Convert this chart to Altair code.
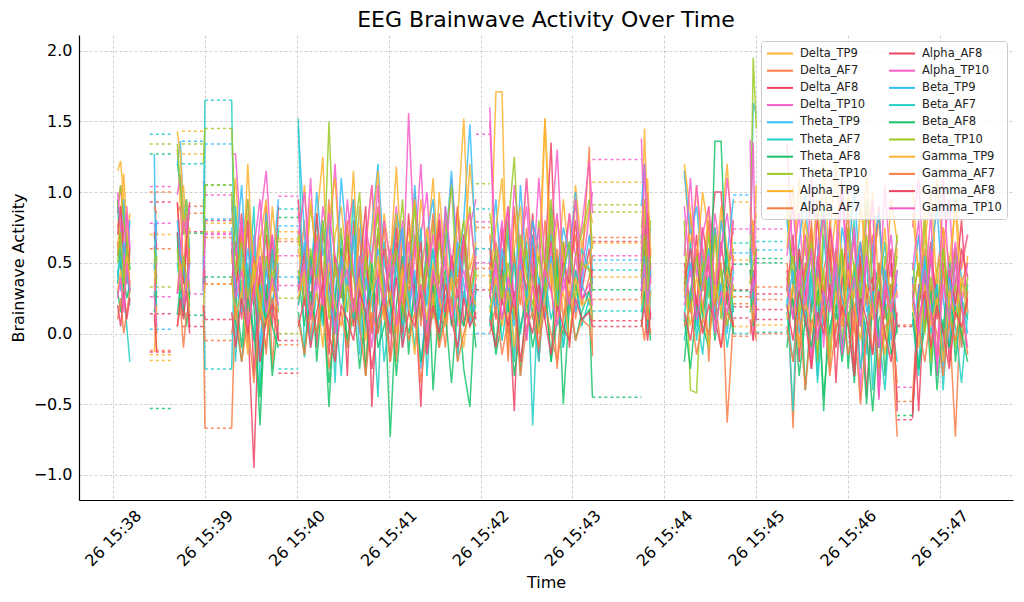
import altair as alt
import pandas as pd

# ---------------- data ----------------
SERIES = ["Delta_TP9", "Delta_AF7", "Delta_AF8", "Delta_TP10",
          "Theta_TP9", "Theta_AF7", "Theta_AF8", "Theta_TP10",
          "Alpha_TP9", "Alpha_AF7", "Alpha_AF8", "Alpha_TP10",
          "Beta_TP9", "Beta_AF7", "Beta_AF8", "Beta_TP10",
          "Gamma_TP9", "Gamma_AF7", "Gamma_AF8", "Gamma_TP10"]
PALETTE = ["#FFB22E", "#F97C44", "#EE4463", "#F95CC9",
           "#35BDF9", "#22CFC6", "#17C46A", "#9ACA26"]

START = "2024-03-26 15:38:00"
# seconds after 15:38:00
TIME_S = [3, 5, 7, 9, 11,
          27, 28.5,
          42, 44, 46, 48, 50,
          59, 60,
          77.5, 80, 84, 88, 92, 96, 100, 104, 108,
          121, 125, 129, 133, 137, 141, 145, 149, 153, 157, 161, 165, 169, 173, 177,
          181, 185, 189, 193, 197, 201, 205, 209, 213, 217, 221, 225, 229, 233, 237,
          246, 250, 254, 258, 262, 266, 270, 274, 278, 282, 286, 290, 294, 298, 302, 306,
          311, 313,
          345, 347, 349, 351,
          373, 377, 381, 385, 389, 393, 397, 401, 405,
          416, 418, 420,
          440, 444, 448, 452, 456, 460, 464, 468, 472, 476, 480, 484, 488, 492, 496, 500, 504, 508, 512,
          522, 526, 530, 534, 538, 542, 546, 550, 554, 558]

DELTA_TP9 = [1.15, 1.22, 0.95, 0.6, 0.85,
             0.7, 0.52,
             1.3, 0.9, 1.05, 0.75, 0.82,
             0.95, 0.72,
             0.78, 1.1, 0.4, 0.85, 0.2, 0.65, 0.95, 0.3, 0.55,
             0.62, 1.05, 0.35, 0.8, 1.25, 0.15, 0.7, 0.9, 0.45, 1.15, 0.3, 0.6, 1.05, 0.2, 0.85,
             0.5, 1.18, 0.4, 0.75, 0.25, 0.95, 0.6, 1.1, 0.35, 0.7, 0.15, 0.88, 0.5, 1.2, 0.72,
             0.3, 1.71, 1.71, -0.15, 0.85, 0.4, 1.1, 0.55, 0.2, 1.52, 0.65, 0.35, 0.95, 0.5, 1.05, 0.6,
             0.9, 0.78,
             0.55, 1.45, 0.8, 0.35,
             1.15, 0.6, 1.05, 0.4, 0.9, 0.3, 0.75, 1.2, 0.5,
             0.88, 0.55, 1.05,
             0.95, 0.3, 1.1, 0.55, 0.75, 0.2, 1.2, 0.45, 0.85, 0.15, 1.0, 0.6, 0.35, 1.15, 0.5, 0.8, 0.25, 0.95, 0.65,
             1.05, 0.4, 0.85, 0.2, 1.1, 0.55, 0.3, 0.95, 0.45, 0.7]
DELTA_AF7 = [0.75, 0.9, 0.62, 0.5, 0.45,
             1.0, 0.7,
             0.92, 0.6, 0.35, 0.82, 0.5,
             0.2, -0.67,
             -0.67, 0.3, 0.75, -0.1, 0.55, 0.2, 0.9, -0.25, 0.45,
             0.35, 0.8, -0.05, 0.5, 0.25, 0.95, -0.2, 0.6, 0.4, 0.1, 0.75, -0.3, 0.55, 0.9, 0.2,
             0.45, -0.15, 0.7, 0.35, 1.0, 0.05, 0.6, 0.3, -0.1, 0.8, 0.45, 0.15, 0.65, 0.25, 0.55,
             0.7, 0.2, 0.55, -0.2, 0.9, 0.35, -0.05, 0.6, 0.15, 0.8, 0.4, -0.25, 0.5, 0.85, 0.1, 0.45,
             1.32, -0.16,
             0.4, 0.9, 0.15, 0.6,
             0.3, 0.85, 0.1, 0.6, -0.2, 0.75, 0.45, 0.2, 0.55,
             0.35, 0.8, 0.1,
             0.4, -0.67, 0.55, 0.1, 0.8, -0.2, 0.45, 0.65, 0.0, 0.35, 0.9, -0.3, 0.5, 0.2, 0.7, -0.1, 0.4, 0.05, -0.73,
             -0.47, 0.3, 0.6, -0.15, 0.45, 0.75, 0.1, -0.73, 0.35, 0.5]
DELTA_AF8 = [0.65, 0.45, 0.8, 0.55, 0.35,
             0.62, 0.4,
             0.93, 0.6, 0.13, 0.72, 0.05,
             0.35, 0.8,
             0.6, 0.25, 0.85, 0.1, -0.95, 0.4, 0.7, 0.05, 0.9,
             0.95, 0.2, 0.55, -0.1, 0.75, 0.35, 0.05, 0.6, -0.3, 0.8, 0.25, 0.5, 0.0, 0.7, 0.4,
             -0.2, 0.65, 0.15, 0.85, 0.3, -0.52, 0.55, 0.2, 0.75, 0.1, 0.45, 0.9, 0.05, 0.35, 0.6,
             0.5, 0.1, 0.75, 0.3, -0.55, 0.6, 0.25, 0.85, 0.05, 0.5, 1.35, 0.2, 0.65, -0.1, 0.45, 0.3,
             0.6, 0.35,
             0.3, 0.75, 0.45, 0.1,
             0.5, 0.2, 0.7, 0.15, 0.55, 1.0, 1.0, 0.35, 0.8,
             0.45, 0.25, 0.6,
             0.3, 0.7, -0.2, 0.5, 0.15, 0.85, 0.05, 0.6, -0.35, 0.4, 0.75, 0.1, 0.55, -0.45, 0.35, 0.9, 0.2, 0.5, 0.05,
             0.4, -0.55, 0.3, 0.65, 0.1, 0.5, -0.2, 0.35, 0.8, 0.15]
DELTA_TP10 = [0.85, 1.05, 0.72, 0.9, 0.6,
              0.78, 0.62,
              0.98, 1.12, 0.7, 0.85, 0.28,
              1.08, 0.98,
              1.27, 1.27, 0.6, 0.95, 0.35, 0.8, 1.15, 0.5, 0.7,
              0.85, 0.45, 1.1, 0.3, 0.9, 0.6, 1.2, 0.4, 0.75, 0.95, 0.15, 0.65, 1.05, 0.35, 0.8,
              0.5, 0.9, 0.25, 1.56, 0.55, 0.7, 1.0, 0.3, 0.85, 0.45, 1.1, 0.6, 0.2, 0.75, 0.95,
              1.6, 0.45, 0.8, 0.25, 1.05, 0.6, 0.9, 0.35, 1.1, 0.5, 0.7, 1.3, 0.4, 0.85, 0.55, 0.75,
              1.22, 0.85,
              1.38, 0.6, 1.0, 0.45,
              0.9, 0.4, 1.05, 0.6, 0.35, 0.85, 0.55, 1.1, 0.7,
              1.37, -0.05, 0.6,
              1.35, 0.5, 0.85, 0.25, 1.1, 0.6, -0.1, 0.8, 0.45, 1.0, 0.3, 0.7, -0.47, 0.9, 0.55, 0.2, 1.05, 0.4, 0.65,
              0.75, 1.1, 0.3, 0.85, -0.3, 0.6, 0.95, 0.2, 0.5, 0.7]
THETA_TP9 = [0.55, 0.7, 0.95, 0.5, 0.8,
             1.27, 0.0,
             1.2, 1.36, 0.8, 0.95, 0.6,
             0.78, 1.34,
             0.9, 0.55, 1.05, 0.3, 0.7, -0.2, 0.85, 0.45, 0.95,
             1.45, 0.7, 0.35, 1.0, 0.55, 0.8, 0.2, 1.1, 0.6, 0.4, 0.9, 0.05, 0.75, 1.2, 0.5,
             0.3, 0.85, 0.65, 0.15, 1.05, 0.45, 0.7, 0.95, 0.25, 0.6, 1.15, 0.4, 0.8, 1.48, 0.55,
             0.5, 0.95, 0.3, 0.7, 0.15, 1.05, 0.45, 0.8, 0.6, 0.25, 0.9, 0.4, 0.75, 0.55, 1.0, 0.35,
             0.7, 0.45,
             0.9, 1.2, 0.5, 0.75,
             1.15, 0.7, 0.9, 0.45, 0.6, 0.25, 0.8, 0.55, 0.95,
             0.5, 1.63, 1.55,
             0.8, 0.35, 0.65, 1.0, 0.2, 0.55, 0.9, 0.4, 0.15, 0.75, 0.5, 1.05, 0.3, -0.15, 0.6, 0.85, 0.25, -0.05, 0.45,
             0.35, 0.7, 0.05, 0.55, 0.9, 0.25, -0.1, 0.6, 0.4, 0.15]
THETA_AF7 = [0.35, 0.75, 0.3, 0.05, -0.2,
             0.7, 0.5,
             1.2, 1.05, 0.85, 0.65, 0.9,
             0.3, 1.65,
             1.65, -0.2, 0.6, 0.25, 0.9, -0.4, 0.5, 0.15, 0.75,
             1.52, -0.17, 0.45, 0.8, 0.1, 0.6, -0.35, 0.7, 0.3, 0.95, 0.0, 0.5, 0.25, -0.45, 0.65,
             0.4, 0.85, -0.1, 0.55, 0.2, 0.75, -0.3, 0.45, 0.1, 0.9, 0.35, -0.2, 0.6, 0.15, 0.5,
             0.05, 0.55, 0.3, 0.8, -0.2, 0.45, 0.65, -0.65, 0.4, 0.15, 0.7, 0.25, -0.1, 0.55, 0.3, 0.6,
             0.45, 0.3,
             0.7, 0.35, 0.55, 0.25,
             0.1, 0.65, -0.05, 0.45, 0.3, 0.75, 0.2, 0.55, 0.0,
             0.55, 0.35, 0.25,
             0.25, -0.55, 0.6, 0.1, 0.45, -0.3, 0.7, 0.2, 0.5, -0.15, 0.35, 0.8, 0.05, 0.55, -0.4, 0.3, 0.65, 0.1, -0.2,
             0.3, -0.25, 0.55, 0.1, 0.4, -0.4, 0.25, 0.6, -0.1, 0.35]
THETA_AF8 = [0.95, 0.5, 0.3, 0.7, 0.45,
             0.25, 0.4,
             0.71, 0.13, 0.45, 0.3, 0.2,
             0.5, 1.05,
             0.6, 0.3, -0.1, 0.45, 0.2, -0.65, 0.35, -0.3, 0.1,
             0.4, 0.05, 0.55, -0.2, 0.3, -0.52, 0.25, 0.6, -0.1, 0.15, 0.45, -0.3, 0.5, 0.0, 0.35,
             -0.73, 0.2, 0.55, -0.15, 0.4, 0.1, 0.65, -0.4, 0.25, 0.45, 0.05, 0.3, -0.25, -0.52, 0.35,
             0.3, -0.1, 0.45, 0.15, 0.6, -0.3, 0.25, 0.5, 0.0, 0.4, -0.2, 0.55, -0.5, 0.2, 0.35, 0.1,
             0.17, -0.45,
             0.35, 0.6, 0.05, 0.3,
             -0.2, 0.3, 0.55, 0.1, 0.4, -0.05, 0.35, 0.6, 0.15,
             0.45, 0.2, 0.35,
             -0.1, 0.35, 0.55, -0.4, 0.2, 0.45, -0.55, 0.3, 0.1, 0.6, -0.25, 0.4, 0.15, -0.5, 0.25, 0.5, -0.3, 0.35, 0.0,
             -0.58, 0.2, 0.45, -0.3, 0.3, 0.0, 0.55, -0.2, 0.25, 0.1]
THETA_TP10 = [0.9, 1.05, 0.8, 0.65, 0.55,
              0.33, 0.55,
              1.34, 1.05, 0.7, 0.95, 0.5,
              1.2, 1.45,
              1.45, 0.75, 0.3, 0.95, 0.5, 0.15, 0.8, 0.4, 0.6,
              0.7, 0.35, 0.9, 0.55, 0.25, 1.5, 0.4, 0.75, 0.15, 0.65, 1.0, 0.3, 0.55, 0.85, 0.1,
              0.6, 0.45, 0.95, 0.2, 0.7, 0.5, -0.05, 0.8, 0.35, 0.65, 1.05, 0.25, 0.55, 0.9, 0.4,
              0.85, 0.5, 0.2, 0.75, 1.25, 0.35, 0.6, 0.1, 0.8, 0.45, 0.95, 0.3, 0.65, 0.15, 0.55, 0.7,
              0.95, 0.6,
              0.75, 0.95, 0.55, 0.8,
              0.8, -0.4, -0.42, 0.5, 0.25, 0.7, 0.1, 0.45, 0.6,
              0.5, 1.95, 1.45,
              0.9, 0.4, 0.15, 0.7, 0.5, -0.2, 0.85, 0.3, 0.6, -0.1, 0.75, 0.45, 0.2, 0.95, 0.35, -0.3, 0.55, 0.25, 0.7,
              0.5, 0.15, 0.8, -0.2, 0.45, 0.6, 0.1, 0.35, -0.05, 0.4]
ALPHA_TP9 = [0.6, 0.85, 1.13, 0.75, 0.5,
             0.53, -0.13,
             1.43, 1.27, 0.85, 0.6, 0.75,
             0.81, 0.78,
             0.5, 0.85, 0.2, 1.2, 0.35, 0.7, 0.1, 0.9, 0.45,
             0.6, 0.3, 0.95, 0.5, 0.2, 0.8, 1.1, 0.35, 0.65, 0.05, 0.9, 0.45, 0.7, 1.15, 0.25,
             0.55, 0.85, 0.1, 0.6, 0.95, 0.4, 0.75, 0.2, 1.0, 0.5, 0.3, 0.8, 1.52, 0.45, 0.65,
             0.4, 0.75, 1.1, 0.3, 0.6, 0.9, 0.15, 0.7, 0.5, 1.52, 0.35, 0.8, 0.55, 0.25, 0.95, 0.45,
             0.5, 0.65,
             0.6, 0.85, 1.1, 0.55,
             1.2, 0.85, 0.5, 1.0, 0.7, 0.35, 0.9, 0.6, 0.3,
             0.9, 0.72, 0.85,
             0.6, 1.05, 0.3, 0.8, 0.5, 0.95, 0.15, 0.7, 1.2, 0.4, 0.65, 0.25, 0.9, 0.55, 1.0, 0.35, 0.75, 0.1, 0.6,
             0.85, 0.4, 0.65, 1.0, 0.3, 0.75, 0.5, 0.9, 0.2, 0.55]
ALPHA_AF7 = [0.55, 0.7, 0.4, 0.62, 0.3,
             0.9, 0.85,
             0.85, 0.9, 0.45, 0.35, 0.6,
             0.4, 0.68,
             0.68, 0.45, 0.7, 0.1, 0.55, 0.3, -0.15, 0.6, 0.35,
             0.2, 0.55, 0.1, 0.7, 0.35, -0.05, 0.5, 0.25, 0.8, 0.15, 0.45, 0.6, 0.0, 0.4, 0.75,
             0.2, -0.2, 0.5, 0.3, 0.65, 0.1, 0.45, 0.85, 0.25, -0.1, 0.55, 0.35, 0.7, 0.05, 0.4,
             0.25, 0.65, 0.4, 0.0, 0.55, 0.2, 0.75, 0.35, -0.15, 0.5, 0.3, 0.6, 0.1, 0.45, 0.7, 0.2,
             0.4, 0.55,
             0.45, 0.2, 0.65, 0.35,
             0.45, 0.15, 0.6, 0.3, 0.8, 0.25, 0.5, -0.63, 0.1,
             0.3, 0.2, 0.45,
             0.5, 0.2, -0.1, 0.45, 0.7, 0.05, 0.35, -0.25, 0.6, 0.15, 0.4, 0.0, 0.55, 0.3, -0.15, 0.5, 0.1, 0.35, -0.47,
             0.2, 0.5, 0.05, 0.35, -0.2, 0.45, 0.25, 0.6, -0.1, 0.3]
ALPHA_AF8 = [0.7, 0.9, 0.5, 0.35, 0.6,
             0.72, 0.6,
             0.72, 0.5, 0.35, 0.65, 0.93,
             0.7, 0.35,
             0.35, 0.65, 0.1, 0.8, -0.3, 0.5, 0.2, 0.7, -0.05,
             0.3, 0.6, 0.15, 0.85, 0.4, -0.15, 0.55, 0.25, 0.7, 0.05, 0.45, 0.9, -0.52, 0.35, 0.6,
             0.2, 0.75, 0.0, 0.5, 0.3, 0.65, -0.1, 0.4, 0.8, 0.15, 0.55, 0.25, 0.7, 0.35, 0.1,
             0.6, 0.25, 0.45, 0.9, 0.1, 0.55, 0.3, 0.7, -0.2, 0.4, 0.65, 0.15, 0.5, 0.35, 0.8, 0.25,
             0.3, 0.45,
             0.25, 0.55, 0.85, 0.4,
             0.35, 0.6, 0.2, 0.75, 0.45, 0.1, 0.65, 0.3, 0.5,
             0.25, 0.45, 0.3,
             0.45, 0.1, 0.6, 0.3, -0.25, 0.55, 0.2, 0.75, 0.35, 0.05, 0.5, -0.3, 0.65, 0.25, 0.4, -0.45, 0.3, 0.6, -0.55,
             -0.6, 0.35, 0.1, 0.55, 0.25, -0.15, 0.45, 0.2, 0.6, 0.4]
ALPHA_TP10 = [1.0, 0.75, 0.45, 0.85, 0.6,
              0.26, 0.5,
              0.28, 0.55, 0.8, 0.7, 0.9,
              0.5, 0.71,
              0.95, 0.55, 0.8, 0.2, 0.6, 0.95, 0.4, 0.7, 0.3,
              0.7, 1.0, 0.4, 0.65, 0.2, 0.85, 0.55, 0.3, 0.95, 0.45, 0.1, 0.75, 0.5, 1.05, 0.25,
              0.6, 0.35, 0.8, 0.15, 0.55, 1.2, 0.4, 0.7, 0.2, 0.9, 0.5, 0.05, 0.65, 0.85, 0.45,
              1.5, 0.35, 0.65, 0.9, 0.2, 0.55, 1.1, 0.4, 0.75, 0.1, 0.6, 0.85, 0.3, 0.5, 0.95, 0.4,
              0.85, 1.0,
              0.5, 1.2, 0.7, 0.4,
              0.55, 1.1, 0.4, 0.7, 0.9, 0.3, 0.6, 0.85, 0.45,
              0.7, 1.35, 0.2,
              0.55, 0.9, 0.3, 0.7, -0.2, 0.5, 0.85, 0.2, 0.6, 1.1, 0.35, 0.75, 0.1, 0.5, 0.95, -0.47, 0.4, 0.7, 0.25,
              0.45, 0.8, 0.1, 0.6, -0.3, 1.1, 0.35, 0.65, 0.2, 0.5]
BETA_TP9 = [0.45, 0.3, 0.65, 0.5, 0.2,
            0.45, 0.8,
            0.8, 0.55, 0.45, 0.3, 0.5,
            0.45, 0.81,
            0.75, 0.35, 0.15, 0.6, 0.3, -0.1, 0.45, 0.2, 0.5,
            0.35, 0.65, 0.1, 0.45, 0.8, 0.25, 0.0, 0.55, 0.3, 0.7, -0.15, 0.4, 0.2, 0.6, 0.35,
            0.05, 0.5, 0.75, 0.15, 0.45, -0.25, 0.3, 0.6, 0.1, 0.4, 0.2, 0.65, 0.35, 0.05, 0.3,
            0.45, 0.15, 0.6, 0.3, 0.05, 0.5, 0.25, 0.7, 0.35, 0.1, 0.55, 0.2, 0.4, 0.65, 0.15, 0.35,
            0.2, 0.4,
            0.3, 0.55, 0.2, 0.45,
            0.25, 0.5, 0.05, 0.4, 0.6, 0.15, 0.35, 0.0, 0.45,
            0.6, 0.4, 0.2,
            0.2, 0.45, 0.0, 0.35, 0.6, 0.1, 0.3, -0.2, 0.5, 0.25, 0.05, 0.4, 0.65, 0.15, 0.3, -0.1, 0.45, 0.2, 0.35,
            0.05, 0.3, 0.5, 0.1, 0.35, -0.25, 0.4, 0.15, 0.25, 0.0]
BETA_AF7 = [0.4, 0.55, 0.2, 0.45, 0.3,
            0.3, 0.2,
            0.5, 0.3, 0.15, 0.4, 0.25,
            0.4, -0.25,
            -0.25, 0.9, 0.2, 0.5, -0.05, 0.35, 0.1, 0.6, 0.15,
            0.2, 0.5, -0.1, 0.3, 0.05, 0.45, 0.2, -0.3, 0.35, 0.1, 0.55, 0.0, 0.25, 0.4, -0.2,
            0.15, 0.5, 0.05, 0.3, -0.1, 0.35, 0.2, 0.6, 0.0, 0.25, 0.45, -0.15, 0.3, 0.1, 0.2,
            0.1, 0.35, -0.05, 0.25, 0.5, 0.0, 0.3, 0.15, -0.2, 0.4, 0.1, 0.3, -0.1, 0.2, 0.45, 0.05,
            0.25, 0.1,
            0.15, 0.4, 0.0, 0.3,
            -0.05, 0.3, 0.15, -0.15, 0.4, 0.1, 0.25, -0.1, 0.2,
            0.15, 0.3, 0.1,
            0.15, -0.2, 0.3, 0.05, 0.4, -0.35, 0.2, 0.0, 0.35, -0.1, 0.25, 0.45, -0.25, 0.1, 0.3, 0.0, -0.4, 0.2, 0.05,
            0.1, -0.3, 0.25, 0.0, 0.35, -0.15, 0.2, 0.05, -0.35, 0.15]
BETA_AF8 = [0.3, 0.15, 0.4, 0.25, 0.35,
            0.15, 0.3,
            0.13, 0.35, 0.2, 0.05, 0.3,
            0.35, 0.4,
            0.4, 0.1, -0.2, 0.25, 0.0, -0.45, 0.3, 0.05, -0.1,
            0.15, -0.15, 0.3, 0.0, 0.2, -0.35, 0.1, 0.35, -0.05, 0.25, -0.25, 0.15, 0.4, -0.1, 0.05,
            0.3, -0.3, 0.2, 0.0, 0.25, -0.2, 0.1, 0.35, -0.05, 0.15, -0.35, 0.2, 0.05, 0.3, -0.1,
            0.2, -0.15, 0.1, 0.3, -0.3, 0.05, 0.25, -0.1, 0.15, 0.35, -0.2, 0.1, 0.0, 0.25, -0.05, 0.15,
            0.3, 0.1,
            0.05, 0.3, 0.15, -0.05,
            0.1, -0.25, 0.2, 0.05, -0.1, 1.36, 1.36, 0.25, 0.0,
            0.3, 0.05, 0.15,
            0.0, 0.25, -0.3, 0.1, -0.1, 0.3, -0.45, 0.05, 0.2, -0.2, 0.15, -0.35, 0.25, 0.0, -0.55, 0.1, 0.2, -0.15, 0.05,
            0.15, -0.25, 0.05, 0.3, -0.4, 0.1, -0.1, 0.2, 0.0, -0.2]
BETA_TP10 = [0.5, 0.72, 0.35, 0.6, 0.45,
             0.6, 0.35,
             0.6, 0.3, 0.55, 0.4, 0.33,
             0.55, 1.05,
             1.0, 0.4, 0.65, 0.25, 0.5, 0.1, 0.55, 0.3, 0.7,
             0.45, 0.2, 0.6, 0.35, 0.8, 0.1, 0.5, 0.25, 0.7, 0.4, 0.05, 0.55, 0.3, 0.75, 0.2,
             0.45, 0.6, 0.15, 0.4, 0.9, 0.25, 0.5, 0.1, 0.65, 0.35, 0.2, 0.55, 0.8, 0.3, 0.45,
             0.35, 0.6, 0.25, 0.5, 0.1, 0.7, 0.4, 0.2, 0.55, 0.3, 0.85, 0.15, 0.45, 0.65, 0.25, 0.5,
             0.45, 0.3,
             0.4, 0.7, 0.3, 0.55,
             0.4, 0.15, 0.55, 0.3, 0.7, 0.2, 0.45, 0.05, 0.35,
             0.35, 0.5, 0.6,
             0.3, 0.55, 0.1, 0.4, 0.65, 0.2, 0.45, -0.15, 0.35, 0.6, 0.05, 0.5, 0.25, 0.7, 0.15, 0.4, -0.05, 0.3, 0.55,
             0.25, 0.5, 0.0, 0.4, 0.15, 0.6, 0.2, -0.1, 0.35, 0.3]
GAMMA_TP9 = [0.3, 0.45, 0.2, 0.55, 0.35,
             -0.13, 0.2,
             0.3, 0.5, 0.25, 0.4, 0.15,
             0.15, 0.35,
             0.4, 0.1, 0.3, -0.15, 0.5, 0.2, 0.05, 0.35, 0.15,
             0.25, 0.45, 0.1, 0.3, -0.1, 0.5, 0.2, 0.05, 0.35, 0.15, 0.4, -0.05, 0.25, 0.55, 0.1,
             0.3, 0.0, 0.45, 0.2, -0.15, 0.35, 0.1, 0.5, 0.25, 0.05, 0.4, 0.15, -0.1, 0.3, 0.2,
             0.15, 0.4, 0.05, 0.3, -0.1, 0.45, 0.2, 0.35, 0.0, 0.25, 0.5, 0.1, 0.3, -0.05, 0.4, 0.2,
             0.25, 0.1,
             0.2, 0.4, 0.1, 0.3,
             0.3, 0.05, 0.4, 0.2, -0.1, 0.35, 0.15, 0.45, 0.25,
             0.2, 0.1, 0.35,
             0.1, 0.35, -0.1, 0.25, 0.0, 0.4, 0.15, -0.2, 0.3, 0.05, 0.45, 0.2, -0.05, 0.35, 0.1, 0.25, -0.15, 0.2, 0.3,
             0.2, -0.1, 0.35, 0.05, 0.25, -0.2, 0.3, 0.1, 0.4, 0.15]
GAMMA_AF7 = [0.1, 0.25, 0.0, 0.15, 0.3,
             0.1, 0.0,
             0.05, 0.2, -0.1, 0.15, 0.1,
             0.1, -0.05,
             0.0, 0.2, -0.2, 0.1, -0.35, 0.15, -0.1, 0.25, 0.05,
             0.1, -0.15, 0.2, 0.0, 0.3, -0.25, 0.1, 0.15, -0.1, 0.25, 0.05, -0.3, 0.15, 0.0, 0.2,
             -0.2, 0.1, 0.3, -0.05, 0.15, -0.35, 0.05, 0.2, -0.1, 0.1, 0.25, -0.2, 0.0, 0.15, 0.05,
             0.0, 0.2, -0.15, 0.1, 0.25, -0.3, 0.05, 0.15, -0.1, 0.2, 0.0, -0.2, 0.1, 0.3, -0.05, 0.1,
             0.05, -0.1,
             0.1, -0.05, 0.2, 0.0,
             0.05, 0.2, -0.15, 0.1, 0.0, 0.25, -0.1, 0.15, 0.05,
             0.0, 0.15, -0.05,
             0.05, -0.2, 0.15, -0.4, 0.1, 0.0, 0.2, -0.3, 0.05, 0.15, -0.15, 0.1, -0.5, 0.0, 0.2, -0.25, 0.05, 0.1, -0.35,
             -0.48, 0.05, -0.2, 0.15, 0.0, -0.3, 0.1, -0.05, 0.2, -0.15]
GAMMA_AF8 = [0.2, 0.05, 0.3, 0.1, 0.25,
             0.14, -0.13,
             0.05, 0.25, 0.1, 0.3, 0.0,
             0.2, 0.1,
             0.15, -0.1, 0.25, 0.0, 0.35, -0.2, 0.1, 0.2, -0.05,
             0.05, 0.25, -0.1, 0.15, 0.35, 0.0, -0.2, 0.2, 0.1, -0.05, 0.3, 0.15, -0.25, 0.1, 0.25,
             0.0, 0.4, -0.1, 0.15, 0.05, 0.3, -0.15, 0.2, 0.0, 0.35, 0.1, -0.1, 0.25, 0.05, 0.15,
             0.1, -0.1, 0.25, 0.05, 0.3, -0.2, 0.15, 0.0, 0.35, 0.1, -0.15, 0.2, 0.05, -0.05, 0.25, 0.1,
             0.15, 0.05,
             0.05, 0.2, -0.05, 0.15,
             0.15, -0.05, 0.25, 0.0, 0.2, 0.1, -0.1, 0.3, 0.05,
             0.1, -0.05, 0.2,
             0.2, -0.05, 0.3, 0.1, -0.25, 0.15, 0.0, 0.35, -0.1, 0.2, 0.05, -0.3, 0.25, 0.1, -0.15, 0.3, 0.0, -0.2, 0.15,
             -0.55, 0.1, 0.3, -0.1, 0.2, 0.0, -0.25, 0.15, 0.05, 0.25]
GAMMA_TP10 = [0.25, 0.4, 0.15, 0.5, 0.3,
              0.26, 0.05,
              0.28, 0.45, 0.2, 0.35, 0.5,
              0.3, 0.7,
              0.65, 0.25, 0.45, 0.05, 0.3, 0.55, 0.15, 0.4, 0.2,
              0.3, 0.5, 0.1, 0.4, 0.2, 0.6, 0.0, 0.35, 0.45, 0.15, 0.55, 0.25, -0.1, 0.4, 0.2,
              0.5, 0.05, 0.3, 0.65, 0.15, 0.35, 0.0, 0.45, 0.25, 0.55, 0.1, 0.3, 0.45, 0.2, 0.35,
              0.25, 0.5, 0.1, 0.4, 0.2, 0.6, -0.05, 0.35, 0.15, 0.45, 0.3, 0.05, 0.4, 0.2, 0.55, 0.25,
              0.35, 0.2,
              0.3, 0.5, 0.2, 0.4,
              0.2, 0.45, 0.1, 0.35, 0.55, 0.0, 0.3, 0.15, 0.4,
              0.25, 0.4, 0.1,
              0.35, 0.1, 0.45, 0.2, 0.6, -0.05, 0.3, 0.15, 0.5, -0.15, 0.25, 0.4, 0.05, 0.55, 0.2, -0.1, 0.35, 0.15, 0.45,
              0.3, 0.0, 0.45, 0.15, -0.2, 0.35, 0.1, 0.5, 0.2, -0.1]

VALUES = [DELTA_TP9, DELTA_AF7, DELTA_AF8, DELTA_TP10,
          THETA_TP9, THETA_AF7, THETA_AF8, THETA_TP10,
          ALPHA_TP9, ALPHA_AF7, ALPHA_AF8, ALPHA_TP10,
          BETA_TP9, BETA_AF7, BETA_AF8, BETA_TP10,
          GAMMA_TP9, GAMMA_AF7, GAMMA_AF8, GAMMA_TP10]

# flat (held) stretches drawn dashed: (start s, end s) and one level per series
HOLD_BLOCKS = [(24, 38), (45, 59), (60, 77.5), (108, 121), (237, 246),
               (313, 345), (405, 416), (420, 437), (512, 522)]
HOLD_1 = [0.7, 1.0, 0.93, 1.04, None, 1.41, 1.27, 1.34, -0.19, 0.6,
          0.14, 0.78, 0.03, None, -0.53, 0.33, -0.15, -0.12, -0.13, 0.26]
HOLD_2 = [1.43, 0.9, 0.72, None, 1.36, 1.2, 0.71, 1.34, 1.27, 0.85,
          None, None, None, None, 0.13, None, None, None, 0.05, 0.28]
HOLD_3 = [0.72, -0.67, 0.8, 0.98, 1.34, 1.65, 1.05, 1.45, 0.78, 0.68,
          0.35, 0.71, 0.81, -0.25, 0.4, 1.05, 0.35, -0.05, 0.1, 0.7]
HOLD_4 = [0.67, -0.08, -0.05, 0.97, 0.4, -0.25, 0.82, 0.0, 0.72, 0.65,
          -0.28, 0.34, 0.76, 0.88, None, 0.25, None, None, None, 0.55]
HOLD_5 = [0.41, 0.75, 0.31, 1.41, 0.0, 0.6, None, 1.06, None, 0.46,
          None, 0.79, None, 0.88, None, None, None, None, None, 0.5]
HOLD_6 = [1.07, 0.24, 0.65, 1.23, 0.52, 0.45, -0.45, 0.91, 0.64, 0.68,
          0.09, 0.55, None, 0.16, 0.31, 0.86, 0.4, None, 0.05, None]
HOLD_7 = [0.93, 0.21, 0.31, 0.74, 0.98, 0.64, 0.49, None, 0.52, 0.26,
          0.11, None, 0.57, 0.0, 0.3, None, 0.05, -0.02, 0.19, None]
HOLD_8 = [None, 0.33, 0.28, 0.74, 0.59, 0.65, 0.53, None, None, 0.24,
          0.17, None, None, 0.01, 0.5, None, 0.06, 0.0, 0.1, None]
HOLD_9 = [None, 0.06, 0.05, None, None, None, None, None, None, -0.48,
          -0.61, -0.38, None, None, -0.58, None, None, None, None, None]
HOLD_LEVELS = [HOLD_1, HOLD_2, HOLD_3, HOLD_4, HOLD_5, HOLD_6, HOLD_7, HOLD_8, HOLD_9]

Y_TICKS = [-1.0, -0.5, 0.0, 0.5, 1.0, 1.5, 2.0]
X_TICK_MINUTES = [38, 39, 40, 41, 42, 43, 44, 45, 46, 47]

# ---------------- build tables ----------------
base = pd.Timestamp(START)


def iso(sec):
    ts = base + pd.Timedelta(seconds=sec)
    return ts.strftime("%Y-%m-%dT%H:%M:%S") + ".%03d" % (ts.microsecond // 1000)


for name, vals in zip(SERIES, VALUES):
    assert len(vals) == len(TIME_S), (name, len(vals), len(TIME_S))

line_rows = []
for name, vals in zip(SERIES, VALUES):
    seg = 0
    for i, (t, v) in enumerate(zip(TIME_S, vals)):
        if i > 0 and t - TIME_S[i - 1] > 6:
            seg += 1
        line_rows.append({"series": name, "seg": seg, "time": iso(t), "value": v})
lines_df = pd.DataFrame(line_rows)

hold_rows = []
for (t0, t1), levels in zip(HOLD_BLOCKS, HOLD_LEVELS):
    for name, lv in zip(SERIES, levels):
        if lv is not None:
            hold_rows.append({"series": name, "t0": iso(t0), "t1": iso(t1), "level": lv})
holds_df = pd.DataFrame(hold_rows)

COLORS = [PALETTE[i % len(PALETTE)] for i in range(len(SERIES))]
FONT = "DejaVu Sans"

color_enc = alt.Color(
    "series:N",
    scale=alt.Scale(domain=SERIES, range=COLORS),
    legend=alt.Legend(
        orient="none", legendX=682, legendY=6, columns=2, title=None,
        symbolType="M-1,0H3", symbolSize=169, symbolStrokeWidth=2, symbolOpacity=1,
        symbolFillColor="transparent",
        labelFontSize=11.5, labelFont=FONT, labelColor="#222222", labelLimit=300,
        labelOffset=19, fillColor="rgba(255,255,255,0.8)", strokeColor="#cccccc",
        cornerRadius=3, padding=5, rowPadding=4.2, columnPadding=17,
    ),
)


def dt(m, s=0, ms=0):
    return alt.DateTime(year=2024, month=3, date=26, hours=15, minutes=m, seconds=s, milliseconds=ms)


x_scale = alt.Scale(domain=[dt(37, 37, 800), dt(47, 47, 600)])
y_scale = alt.Scale(domain=[-1.177, 2.111], nice=False, zero=False)

x_axis = alt.Axis(
    values=[dt(m) for m in X_TICK_MINUTES], format="%d %H:%M", formatType="time",
    labelAngle=-45, labelAlign="center", labelBaseline="middle", labelPadding=38,
    labelFontSize=16, labelFont=FONT, labelColor="black", labelOverlap=False, labelFlush=False,
    ticks=False, grid=True, gridDash=[3, 2], gridColor="#c4c4c4", gridWidth=0.8,
    domainColor="black", domainWidth=1.2,
    title="Time", titleFontSize=16, titleFont=FONT, titleFontWeight="normal", titleColor="black",
    titleY=82, titleBaseline="middle",
)
y_axis = alt.Axis(
    values=Y_TICKS, format=".1f",
    labelFontSize=16, labelFont=FONT, labelColor="black", labelPadding=7,
    ticks=False, grid=True, gridDash=[3, 2], gridColor="#c4c4c4", gridWidth=0.8,
    domainColor="black", domainWidth=1.2,
    title="Brainwave Activity", titleFontSize=16, titleFont=FONT, titleFontWeight="normal",
    titleColor="black", titleX=-61, titleY=232.5, titleBaseline="middle",
)

holds = alt.Chart(holds_df).mark_rule(strokeDash=[3, 3], strokeWidth=1.5, opacity=0.85).encode(
    x=alt.X("t0:T", scale=x_scale, axis=x_axis),
    x2="t1:T",
    y=alt.Y("level:Q", scale=y_scale, axis=y_axis),
    color=color_enc,
)

lines = alt.Chart(lines_df).mark_line(strokeWidth=1.5, opacity=0.85).encode(
    x=alt.X("time:T", scale=x_scale, axis=x_axis),
    y=alt.Y("value:Q", scale=y_scale, axis=y_axis),
    color=color_enc,
    detail="seg:N",
)

chart = alt.layer(holds, lines).properties(
    width=934, height=465,
    title=alt.TitleParams("EEG Brainwave Activity Over Time", fontSize=22, font=FONT,
                          fontWeight="normal", color="black", anchor="middle", offset=3),
    autosize=alt.AutoSizeParams(type="none"),
    padding={"left": 71, "top": 27, "right": 3, "bottom": 94},
    background="white",
).configure_view(stroke=None)

chart.save("out.html", embed_options={"renderer": "svg", "actions": False})
